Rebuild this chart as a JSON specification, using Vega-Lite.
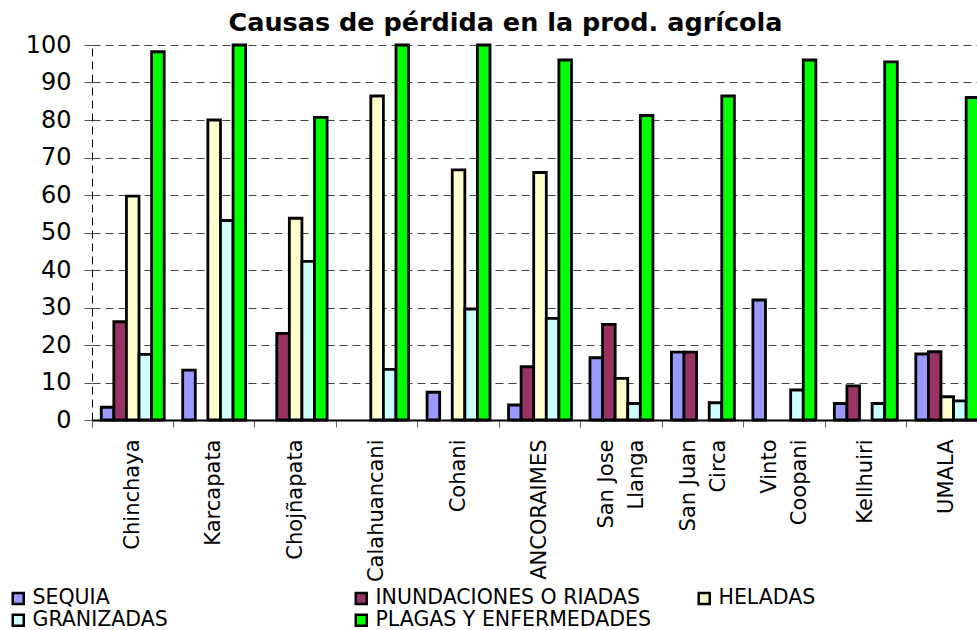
{
  "$schema": "https://vega.github.io/schema/vega-lite/v6.json",
  "autosize": "none",
  "padding": {"left": 92, "top": 45, "right": 0, "bottom": 210},
  "width": 885,
  "height": 375,
  "background": "white",
  "title": {
    "text": "Causas de pérdida en la prod. agrícola",
    "font": "DejaVu Sans",
    "fontSize": 25.5,
    "fontWeight": "bold",
    "color": "#000",
    "anchor": "middle",
    "frame": "group",
    "dx": -29,
    "baseline": "alphabetic",
    "offset": -23
  },
  "data": {
    "values": [
      {"lugar": "Chinchaya", "causa": "SEQUIA", "valor": 3.4},
      {"lugar": "Chinchaya", "causa": "INUNDACIONES O RIADAS", "valor": 26.2},
      {"lugar": "Chinchaya", "causa": "HELADAS", "valor": 59.7},
      {"lugar": "Chinchaya", "causa": "GRANIZADAS", "valor": 17.5},
      {"lugar": "Chinchaya", "causa": "PLAGAS Y ENFERMEDADES", "valor": 98.2},
      {"lugar": "Karcapata", "causa": "SEQUIA", "valor": 13.3},
      {"lugar": "Karcapata", "causa": "HELADAS", "valor": 80},
      {"lugar": "Karcapata", "causa": "GRANIZADAS", "valor": 53.2},
      {"lugar": "Karcapata", "causa": "PLAGAS Y ENFERMEDADES", "valor": 100},
      {"lugar": "Chojñapata", "causa": "INUNDACIONES O RIADAS", "valor": 23.1},
      {"lugar": "Chojñapata", "causa": "HELADAS", "valor": 53.8},
      {"lugar": "Chojñapata", "causa": "GRANIZADAS", "valor": 42.3},
      {"lugar": "Chojñapata", "causa": "PLAGAS Y ENFERMEDADES", "valor": 80.7},
      {"lugar": "Calahuancani", "causa": "HELADAS", "valor": 86.4},
      {"lugar": "Calahuancani", "causa": "GRANIZADAS", "valor": 13.5},
      {"lugar": "Calahuancani", "causa": "PLAGAS Y ENFERMEDADES", "valor": 100},
      {"lugar": "Cohani", "causa": "SEQUIA", "valor": 7.4},
      {"lugar": "Cohani", "causa": "HELADAS", "valor": 66.7},
      {"lugar": "Cohani", "causa": "GRANIZADAS", "valor": 29.6},
      {"lugar": "Cohani", "causa": "PLAGAS Y ENFERMEDADES", "valor": 100},
      {"lugar": "ANCORAIMES", "causa": "SEQUIA", "valor": 4.0},
      {"lugar": "ANCORAIMES", "causa": "INUNDACIONES O RIADAS", "valor": 14.2},
      {"lugar": "ANCORAIMES", "causa": "HELADAS", "valor": 66.0},
      {"lugar": "ANCORAIMES", "causa": "GRANIZADAS", "valor": 27.1},
      {"lugar": "ANCORAIMES", "causa": "PLAGAS Y ENFERMEDADES", "valor": 96},
      {"lugar": "San Jose\nLlanga", "causa": "SEQUIA", "valor": 16.6},
      {"lugar": "San Jose\nLlanga", "causa": "INUNDACIONES O RIADAS", "valor": 25.5},
      {"lugar": "San Jose\nLlanga", "causa": "HELADAS", "valor": 11.1},
      {"lugar": "San Jose\nLlanga", "causa": "GRANIZADAS", "valor": 4.4},
      {"lugar": "San Jose\nLlanga", "causa": "PLAGAS Y ENFERMEDADES", "valor": 81.2},
      {"lugar": "San Juan\nCirca", "causa": "SEQUIA", "valor": 18.1},
      {"lugar": "San Juan\nCirca", "causa": "INUNDACIONES O RIADAS", "valor": 18.1},
      {"lugar": "San Juan\nCirca", "causa": "GRANIZADAS", "valor": 4.6},
      {"lugar": "San Juan\nCirca", "causa": "PLAGAS Y ENFERMEDADES", "valor": 86.4},
      {"lugar": "Vinto\nCoopani", "causa": "SEQUIA", "valor": 32},
      {"lugar": "Vinto\nCoopani", "causa": "GRANIZADAS", "valor": 8},
      {"lugar": "Vinto\nCoopani", "causa": "PLAGAS Y ENFERMEDADES", "valor": 96},
      {"lugar": "Kellhuiri", "causa": "SEQUIA", "valor": 4.4},
      {"lugar": "Kellhuiri", "causa": "INUNDACIONES O RIADAS", "valor": 9.1},
      {"lugar": "Kellhuiri", "causa": "GRANIZADAS", "valor": 4.4},
      {"lugar": "Kellhuiri", "causa": "PLAGAS Y ENFERMEDADES", "valor": 95.5},
      {"lugar": "UMALA", "causa": "SEQUIA", "valor": 17.6},
      {"lugar": "UMALA", "causa": "INUNDACIONES O RIADAS", "valor": 18.2},
      {"lugar": "UMALA", "causa": "HELADAS", "valor": 6.2},
      {"lugar": "UMALA", "causa": "GRANIZADAS", "valor": 5.1},
      {"lugar": "UMALA", "causa": "PLAGAS Y ENFERMEDADES", "valor": 86}
    ]
  },
  "mark": {"type": "bar", "stroke": "#000", "strokeWidth": 2.8},
  "encoding": {
    "x": {
      "field": "lugar",
      "type": "nominal",
      "sort": null,
      "scale": {"range": [0, 896], "paddingInner": 0, "paddingOuter": 0},
      "axis": {
        "title": null,
        "bandPosition": 0,
        "domainColor": "#000",
        "domainWidth": 2,
        "tickColor": "#666",
        "tickSize": 7,
        "labelAngle": -90,
        "labelAlign": "right",
        "labelBaseline": "middle",
        "labelFont": "DejaVu Sans",
        "labelFontSize": 21,
        "labelColor": "#000",
        "labelPadding": 12,
        "labelLineHeight": 30,
        "labelOffset": {"condition": {"test": "indexof(datum.label, '\\n') >= 0", "value": -14}, "value": 0},
        "labelOverlap": false,
        "labelExpr": "split(datum.label, '\\n')"
      }
    },
    "xOffset": {
      "field": "causa",
      "type": "nominal",
      "sort": ["SEQUIA", "INUNDACIONES O RIADAS", "HELADAS", "GRANIZADAS", "PLAGAS Y ENFERMEDADES"],
      "scale": {
        "domain": ["SEQUIA", "INUNDACIONES O RIADAS", "HELADAS", "GRANIZADAS", "PLAGAS Y ENFERMEDADES"],
        "paddingInner": 0,
        "paddingOuter": 0.735
      }
    },
    "y": {
      "field": "valor",
      "type": "quantitative",
      "scale": {"domain": [0, 100], "nice": false},
      "axis": {
        "title": null,
        "values": [0, 10, 20, 30, 40, 50, 60, 70, 80, 90, 100],
        "labelFont": "DejaVu Sans",
        "labelFontSize": 24,
        "labelColor": "#000",
        "tickColor": "#555",
        "tickSize": 8,
        "labelPadding": 13,
        "domainColor": "#000",
        "domainDash": [8, 5],
        "grid": true,
        "gridColor": "#444",
        "gridDash": [8, 5],
        "gridWidth": 1
      }
    },
    "color": {
      "field": "causa",
      "type": "nominal",
      "scale": {
        "domain": ["SEQUIA", "INUNDACIONES O RIADAS", "HELADAS", "GRANIZADAS", "PLAGAS Y ENFERMEDADES"],
        "range": ["#9999FF", "#993366", "#FFFFCC", "#CCFFFF", "#00FF00"]
      },
      "legend": {
        "title": null,
        "orient": "none",
        "direction": "horizontal",
        "legendX": -84,
        "legendY": 543,
        "columns": 3,
        "gridAlign": "all",
        "columnPadding": 41,
        "rowPadding": 0,
        "symbolType": "square",
        "symbolSize": 121,
        "symbolStrokeColor": "#000",
        "symbolStrokeWidth": 2.5,
        "symbolOpacity": 1,
        "labelFont": "DejaVu Sans",
        "labelFontSize": 20.5,
        "labelColor": "#000",
        "labelOffset": 4,
        "labelLimit": 0
      }
    }
  },
  "config": {
    "view": {"stroke": null}
  }
}
